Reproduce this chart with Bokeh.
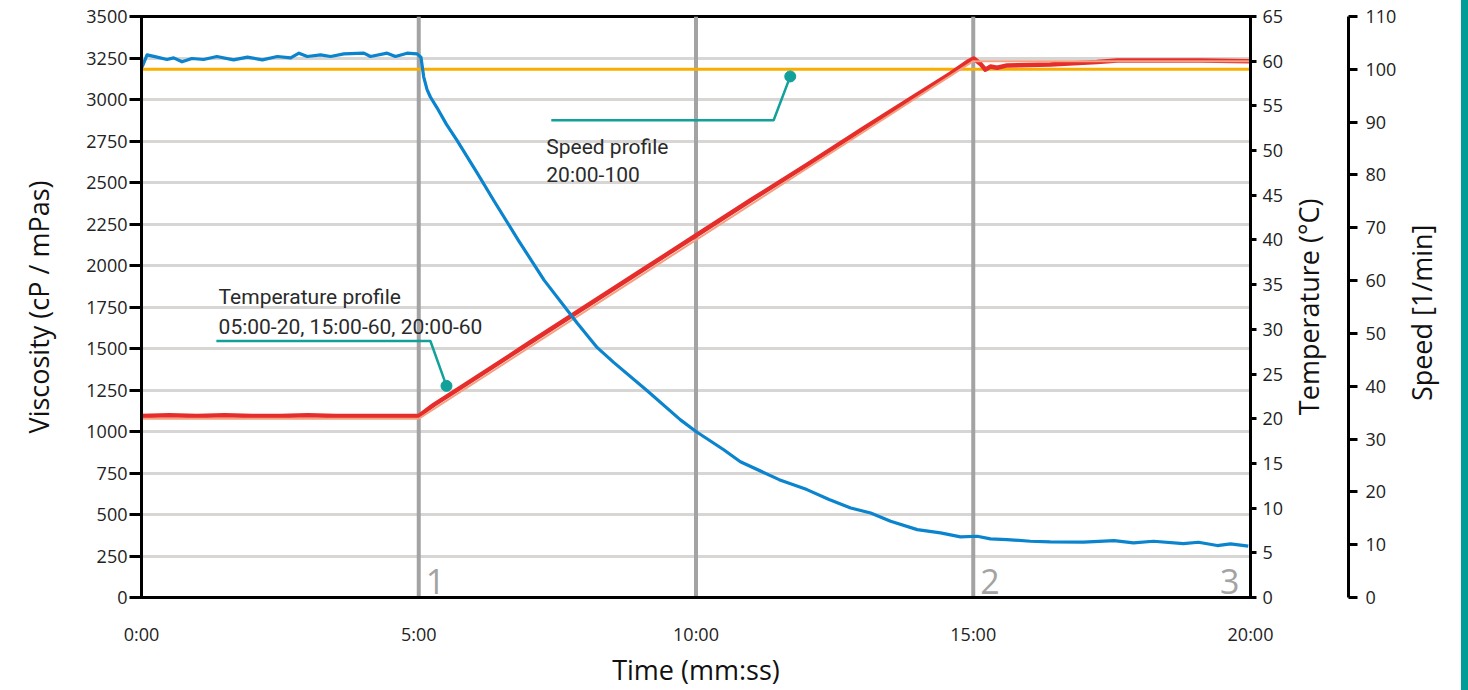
import math
from bokeh.plotting import figure
from bokeh.models import Range1d, LinearAxis, FixedTicker, Spacer
from bokeh.layouts import row
from bokeh.embed import file_html
from bokeh.resources import INLINE
from bokeh.core.properties import value

# ---------------- data ----------------
visc_t = [0.01, 0.10, 0.28, 0.46, 0.58, 0.73, 0.91, 1.12, 1.36, 1.66, 1.91, 2.18, 2.45,
          2.69, 2.84, 2.99, 3.23, 3.41, 3.65, 4.01, 4.13, 4.43, 4.58, 4.79, 4.97, 5.04,
          5.09, 5.15, 5.21, 5.33, 5.50, 5.69, 6.05, 6.35, 6.80, 7.26, 7.86, 8.22, 8.52, 9.12, 9.72,
          10.0, 10.5, 10.8, 11.5, 12.0, 12.4, 12.79, 13.15, 13.51, 13.99, 14.41, 14.77,
          15.07, 15.31, 15.61, 16.03, 16.39, 16.99, 17.54, 17.89, 18.25, 18.79, 19.06,
          19.40, 19.64, 19.96]
visc_v = [3195, 3269, 3255, 3241, 3251, 3227, 3247, 3241, 3259, 3239, 3255, 3239, 3259,
          3251, 3279, 3259, 3269, 3259, 3275, 3279, 3259, 3279, 3259, 3279, 3275, 3255,
          3135, 3060, 3015, 2950, 2850, 2754, 2560, 2393, 2150, 1912, 1652, 1505, 1415, 1245, 1070,
          1000, 890, 818, 710, 650, 590, 539, 509, 459, 409, 389, 365,
          369, 353, 349, 339, 335, 333, 343, 329, 339, 325, 333,
          313, 323, 309]

temp_t = [0.0, 0.5, 1.0, 1.5, 2.0, 2.5, 3.0, 3.5, 4.0, 4.5, 5.0, 5.15, 5.27, 5.51, 6.11, 7.0,
          8.0, 9.0, 10.0, 11.0, 12.0, 13.0, 14.0, 14.59, 14.89, 15.01,
          15.13, 15.22, 15.31, 15.43, 15.61, 16.39, 17.23, 17.60, 19.10, 20.0]
temp_v = [20.3, 20.4, 20.3, 20.4, 20.3, 20.3, 20.4, 20.3, 20.3, 20.3, 20.3, 21.0, 21.55, 22.5,
          24.9, 28.5, 32.5, 36.5, 40.5, 44.5, 48.4, 52.4, 56.3, 58.6, 59.9,
          60.3, 59.7, 59.05, 59.4, 59.27, 59.53, 59.64, 59.9, 60.08, 60.08, 60.0]

setpoint_t = [0, 5, 15, 20]
setpoint_v = [20, 20, 60, 60]

speed_t = [0, 20]
speed_v = [100, 100]

phase_t = [5, 10, 15]
phase_label_text = ["1", "2", "3"]
phase_label_t = [5, 15, 20]

x_ticks = [0, 5, 10, 15, 20]
x_tick_labels = ["0:00", "5:00", "10:00", "15:00", "20:00"]
visc_ticks = list(range(0, 3501, 250))
temp_ticks = list(range(0, 66, 5))
speed_ticks = list(range(0, 111, 10))

temp_title = "Temperature (°C)"
speed_title = "Speed [1/min]"

temp_note_lines = ["Temperature profile", "05:00-20, 15:00-60, 20:00-60"]
temp_note_x = 1.39
temp_note_y = [1810, 1630]
temp_leader_x = [1.35, 5.21, 5.50]
temp_leader_y = [1545, 1545, 1275]

speed_note_lines = ["Speed profile", "20:00-100"]
speed_note_x = 7.30
speed_note_y = [2712, 2544]
speed_leader_x = [7.39, 11.40, 11.70]
speed_leader_y = [2875, 2875, 3139]

# ---------------- styling ----------------
TICK_FONT = "Open Sans"
LABEL_FONT = "Open Sans"
NOTE_FONT = "Roboto"
TEAL = "#12A09A"
BLUE = "#0B84CE"
RED = "#E52E2B"
SALMON = "#F5A080"
ORANGE = "#F7AE00"
PHASE_GRAY = "#A3A3A3"
NBSP = "\u00a0"

p = figure(width=1461, height=690, x_range=Range1d(0, 20), y_range=Range1d(0, 3500),
           output_backend="svg", toolbar_location=None,
           min_border_left=141, min_border_top=16, min_border_right=211, min_border_bottom=92,
           background_fill_color="white", border_fill_color="white")
p.extra_y_ranges = {"temp": Range1d(0, 65), "speed": Range1d(0, 110)}
p.outline_line_color = "black"
p.outline_line_width = 3

p.xgrid.visible = False
p.ygrid.ticker = FixedTicker(ticks=visc_ticks)
p.ygrid.grid_line_color = "#D8D5D5"
p.ygrid.grid_line_width = 3


def style_axis(ax):
    ax.axis_line_color = "black"
    ax.axis_line_width = 3
    ax.major_tick_line_color = "black"
    ax.major_tick_line_width = 3
    ax.major_tick_in = 0
    ax.minor_tick_in = 0
    ax.minor_tick_out = 0
    ax.major_label_text_font = TICK_FONT
    ax.major_label_text_font_size = "18px"
    ax.major_label_text_color = "#222222"
    ax.axis_label_text_font = LABEL_FONT
    ax.axis_label_text_font_size = "27px"
    ax.axis_label_text_font_style = "normal"
    ax.axis_label_text_color = "#111111"


xa = p.xaxis[0]
style_axis(xa)
xa.ticker = FixedTicker(ticks=x_ticks)
xa.major_label_overrides = {t: l for t, l in zip(x_ticks, x_tick_labels)}
xa.major_tick_out = 0
xa.major_label_standoff = 24
xa.axis_label = "Time (mm:ss)"
xa.axis_label_standoff = 2

ya = p.yaxis[0]
style_axis(ya)
ya.ticker = FixedTicker(ticks=visc_ticks)
ya.major_tick_out = 12
ya.major_label_standoff = 2
ya.axis_label = "Viscosity (cP / mPas)"
ya.axis_label_standoff = 26

# right-hand titles read bottom-to-top; they start at the axis' lower end, so a
# run of no-break spaces lifts the visible words to mid-height as in the original
ax_t = LinearAxis(y_range_name="temp", ticker=FixedTicker(ticks=temp_ticks),
                  axis_label=NBSP * 26 + temp_title)
style_axis(ax_t)
ax_t.major_tick_out = 6
ax_t.major_label_standoff = 6
ax_t.axis_label_standoff = 22
ax_t.axis_label_text_line_height = 2.07
ax_t.axis_label_orientation = math.pi / 2
ax_t.axis_label_align = "start"
p.add_layout(ax_t, "right")

ax_s = LinearAxis(y_range_name="speed", ticker=FixedTicker(ticks=speed_ticks),
                  axis_label=NBSP * 28 + speed_title)
style_axis(ax_s)
ax_s.major_tick_out = 9
ax_s.major_label_standoff = 8
ax_s.axis_label_standoff = 22
ax_s.axis_label_text_line_height = 0.8
ax_s.axis_label_orientation = math.pi / 2
ax_s.axis_label_align = "start"
p.add_layout(ax_s, "right")

# phase marker lines
p.segment(x0=phase_t, y0=0, x1=phase_t, y1=3500, line_color=PHASE_GRAY, line_width=4)

# speed profile
p.line(speed_t, speed_v, y_range_name="speed", line_color=ORANGE, line_width=3)

# temperature
p.line(temp_t, temp_v, y_range_name="temp", line_color=RED, line_width=4.5, line_join="round")
p.line(setpoint_t, setpoint_v, y_range_name="temp", line_color=SALMON, line_width=2)

# viscosity
p.line(visc_t, visc_v, line_color=BLUE, line_width=3.2, line_join="round")

# phase numbers
p.text(x=[phase_label_t[0]], y=[0], text=[phase_label_text[0]], x_offset=7, y_offset=-4,
       text_font=value(TICK_FONT), text_font_size="34px", text_color=PHASE_GRAY,
       text_align="left", text_baseline="bottom")
p.text(x=[phase_label_t[1]], y=[0], text=[phase_label_text[1]], x_offset=7, y_offset=-4,
       text_font=value(TICK_FONT), text_font_size="34px", text_color=PHASE_GRAY,
       text_align="left", text_baseline="bottom")
p.text(x=[phase_label_t[2]], y=[0], text=[phase_label_text[2]], x_offset=-11, y_offset=-4,
       text_font=value(TICK_FONT), text_font_size="34px", text_color=PHASE_GRAY,
       text_align="right", text_baseline="bottom")

# callouts
p.line(temp_leader_x, temp_leader_y, line_color=TEAL, line_width=2.5)
p.scatter([temp_leader_x[-1]], [temp_leader_y[-1]], size=11, color=TEAL)
p.text(x=[temp_note_x] * 2, y=temp_note_y, text=temp_note_lines,
       text_font=value(NOTE_FONT), text_font_size="21px", text_color="#2a2a2a",
       text_align="left", text_baseline="alphabetic")

p.line(speed_leader_x, speed_leader_y, line_color=TEAL, line_width=2.5)
p.scatter([speed_leader_x[-1]], [speed_leader_y[-1]], size=11, color=TEAL)
p.text(x=[speed_note_x] * 2, y=speed_note_y, text=speed_note_lines,
       text_font=value(NOTE_FONT), text_font_size="21px", text_color="#2a2a2a",
       text_align="left", text_baseline="alphabetic")

# decorative teal side bar
bar = Spacer(width=7, height=690, styles={"background-color": "#009E96"})

layout = row(p, bar)
open("out.html", "w").write(file_html(layout, INLINE))
